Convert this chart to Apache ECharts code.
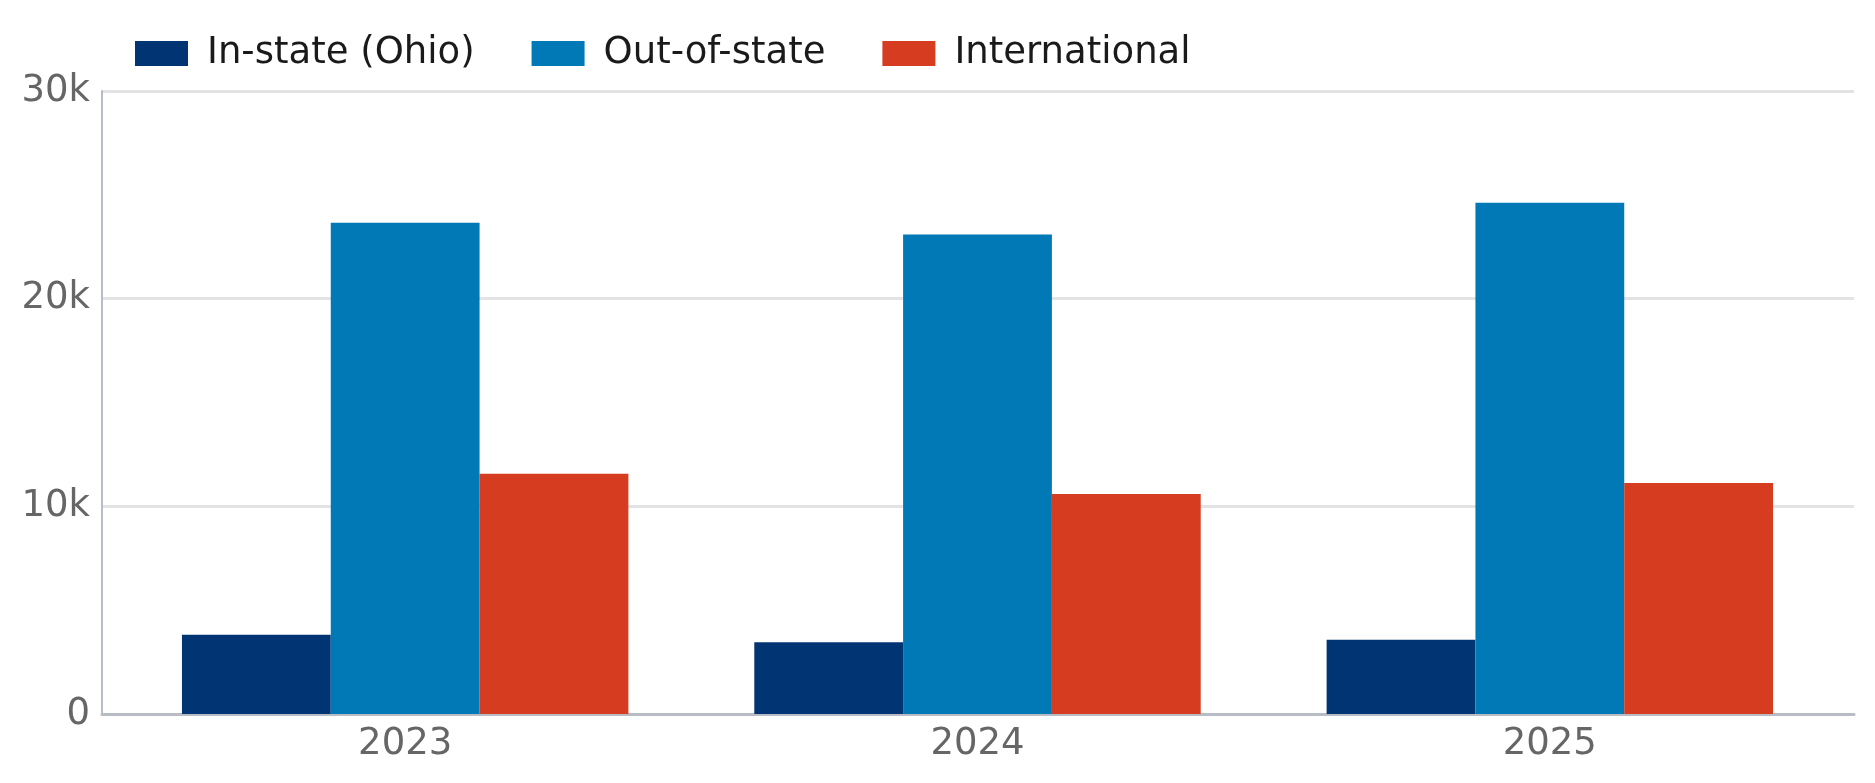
<!DOCTYPE html>
<html>
<head>
<meta charset="utf-8">
<script src="https://cdn.jsdelivr.net/npm/echarts@6/dist/echarts.min.js"></script>
<style>
  html, body { margin: 0; padding: 0; background: #fff; }
  #chart { width: 1875px; height: 783px; }
</style>
</head>
<body>
<div id="chart"></div>
<script>
// data
var years = ['2023', '2024', '2025'];
var seriesNames = ['In-state (Ohio)', 'Out-of-state', 'International'];
var inState = [3820, 3460, 3580];
var outOfState = [23660, 23090, 24620];
var international = [11570, 10590, 11120];
var yTicks = [0, 10000, 20000, 30000];

var colors = ['#003473', '#0079b6', '#d63c1f'];
var font = 'DejaVu Sans';

var myChart = echarts.init(document.getElementById('chart'));

var option = {
    animation: false,
    color: colors,
    legend: {
        data: seriesNames,
        left: 130,
        top: 30,
        itemWidth: 53,
        itemHeight: 25,
        itemGap: 57,
        icon: 'rect',
        textStyle: {
            fontFamily: font,
            fontSize: 37,
            color: '#1a1a1a',
            padding: [16, 0, 0, 14]
        }
    },
    // grid 0 = frame (axis lines + gridlines), grid 1 = bars (a little padded inside)
    grid: [
        { left: 102, right: 21, top: 91, bottom: 69 },
        { left: 119, right: 39, top: 91, bottom: 69 }
    ],
    xAxis: [
        {
            gridIndex: 0,
            type: 'category',
            data: years,
            axisLine: { lineStyle: { color: '#b8bcc4', width: 3 } },
            axisTick: { show: false },
            axisLabel: { show: false }
        },
        {
            gridIndex: 1,
            type: 'category',
            data: years,
            axisLine: { show: false },
            axisTick: { show: false },
            axisLabel: {
                fontFamily: font,
                fontSize: 37,
                color: '#666666',
                margin: 12
            }
        }
    ],
    yAxis: [
        {
            gridIndex: 0,
            type: 'value',
            min: yTicks[0],
            max: yTicks[yTicks.length - 1],
            interval: 10000,
            axisLine: { show: true, lineStyle: { color: '#b8bcc4', width: 2 } },
            axisTick: { show: false },
            splitLine: { lineStyle: { color: '#e3e3e5', width: 3 } },
            axisLabel: {
                fontFamily: font,
                fontSize: 37,
                color: '#666666',
                margin: 12,
                padding: [8, 0, 0, 0],
                formatter: function (v) { return v === 0 ? '0' : (v / 1000) + 'k'; }
            }
        },
        {
            gridIndex: 1,
            type: 'value',
            min: yTicks[0],
            max: yTicks[yTicks.length - 1],
            interval: 10000,
            show: false
        }
    ],
    series: [
        {
            name: seriesNames[0],
            type: 'bar',
            xAxisIndex: 1,
            yAxisIndex: 1,
            data: inState,
            barGap: 0,
            barCategoryGap: '22%'
        },
        {
            name: seriesNames[1],
            type: 'bar',
            xAxisIndex: 1,
            yAxisIndex: 1,
            data: outOfState,
            barGap: 0,
            barCategoryGap: '22%'
        },
        {
            name: seriesNames[2],
            type: 'bar',
            xAxisIndex: 1,
            yAxisIndex: 1,
            data: international,
            barGap: 0,
            barCategoryGap: '22%'
        }
    ]
};

myChart.setOption(option);
</script>
</body>
</html>
